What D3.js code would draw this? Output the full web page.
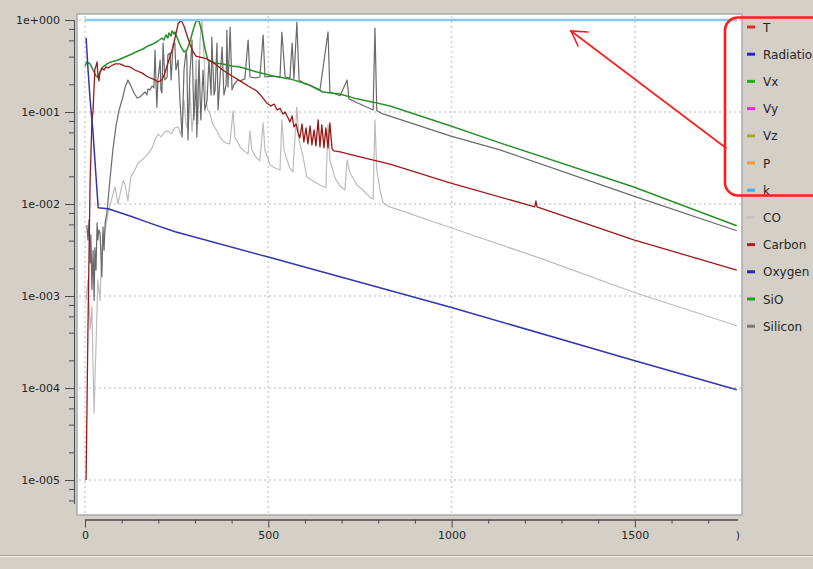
<!DOCTYPE html>
<html>
<head>
<meta charset="utf-8">
<script src="https://cdn.jsdelivr.net/npm/d3@7/dist/d3.min.js"></script>
<style>
  html, body { margin: 0; padding: 0; background: #d4d0c8; overflow: hidden; }
  svg { display: block; font-family: "DejaVu Sans", sans-serif; }
</style>
</head>
<body>
<svg id="chart" width="813" height="569"></svg>
<script>
// ---- data: [time, value] pairs per species ----
const kSeries = [[0, 1.0], [1778, 1.0]];

const oxygen = [
  [3, 0.64], [8, 0.30], [14, 0.135], [22, 0.059], [30, 0.02], [36, 0.0091],
  [63, 0.0089], [123, 0.0074], [177, 0.0062], [246, 0.0050], [500, 0.00265],
  [1000, 0.00075], [1500, 0.000198], [1778, 0.000096]
];

const sio = [
  [0, 0.316], [5, 0.35], [14, 0.333], [22, 0.286], [30, 0.246], [35, 0.240],
  [41, 0.272], [49, 0.309], [60, 0.333], [71, 0.35], [90, 0.367], [109, 0.396],
  [128, 0.427], [145, 0.46], [158, 0.484], [172, 0.522], [185, 0.548], [199, 0.591],
  [210, 0.637], [215, 0.606], [221, 0.687], [226, 0.637], [229, 0.722], [235, 0.670],
  [237, 0.759], [243, 0.705], [245, 0.741], [254, 0.606], [262, 0.509], [270, 0.449],
  [278, 0.472], [286, 0.576], [295, 0.779], [303, 0.975], [311, 0.975], [319, 0.741],
  [327, 0.496], [335, 0.367], [355, 0.341], [376, 0.333], [401, 0.316], [423, 0.309],
  [469, 0.272], [513, 0.246], [559, 0.229], [605, 0.202], [649, 0.165], [695, 0.157],
  [742, 0.139], [786, 0.128], [832, 0.116], [998, 0.0706], [1132, 0.0462],
  [1497, 0.0153], [1778, 0.0058]
];

const carbon = [
  [3, 1e-5], [8, 0.00043], [14, 0.0183], [19, 0.082], [22, 0.105], [25, 0.197],
  [27, 0.294], [30, 0.316], [33, 0.35], [35, 0.253], [38, 0.218], [41, 0.272],
  [46, 0.301], [52, 0.286], [57, 0.309], [63, 0.301], [71, 0.316], [82, 0.333],
  [95, 0.333], [109, 0.316], [123, 0.309], [136, 0.286], [155, 0.266], [172, 0.240],
  [191, 0.223], [199, 0.212], [210, 0.223], [218, 0.266], [229, 0.367], [240, 0.509],
  [248, 0.705], [254, 0.905], [262, 1.0], [270, 0.861], [278, 0.687], [286, 0.548],
  [295, 0.449], [303, 0.406], [314, 0.396], [333, 0.377], [355, 0.333], [376, 0.286],
  [401, 0.246], [423, 0.218], [445, 0.192], [469, 0.169], [483, 0.146], [496, 0.125],
  [507, 0.116], [516, 0.122], [524, 0.105], [532, 0.110], [540, 0.0953], [546, 0.100],
  [554, 0.0862], [559, 0.078], [565, 0.0906], [570, 0.0689], [576, 0.0742], [581, 0.0593],
  [586, 0.0523], [592, 0.0742], [597, 0.0473], [603, 0.0672], [608, 0.045], [614, 0.0706],
  [619, 0.0439], [625, 0.0639], [630, 0.0428], [636, 0.082], [641, 0.0418], [646, 0.0724],
  [652, 0.0407], [657, 0.0672], [663, 0.0407], [668, 0.0761], [674, 0.0397], [679, 0.0378],
  [696, 0.0368], [750, 0.0325], [832, 0.0272], [998, 0.0169], [1227, 0.0093],
  [1230, 0.0108], [1233, 0.0093], [1497, 0.00408], [1778, 0.00191]
];

const silicon = [
  [5, 0.0059], [8, 0.00408], [11, 0.00672], [14, 0.00228], [16, 0.00464], [19, 0.00117],
  [22, 0.00314], [25, 0.000897], [27, 0.00335], [30, 0.00191], [33, 0.00624], [35, 0.00408],
  [38, 0.00525], [41, 0.00487], [44, 0.00246], [46, 0.00162], [49, 0.00566], [52, 0.00314],
  [55, 0.00624], [60, 0.0082], [68, 0.0183], [76, 0.0387], [85, 0.0724], [93, 0.105],
  [101, 0.135], [109, 0.183], [117, 0.223], [125, 0.192], [134, 0.161], [142, 0.142],
  [150, 0.146], [158, 0.157], [164, 0.165], [169, 0.153], [172, 0.178], [177, 0.174],
  [183, 0.192], [188, 0.183], [191, 0.472], [194, 0.197], [196, 0.113], [199, 0.223],
  [205, 0.367], [207, 0.174], [210, 0.161], [213, 0.562], [218, 0.223], [224, 0.240],
  [226, 0.416], [232, 0.438], [235, 0.223], [237, 0.309], [240, 0.535], [245, 0.562],
  [248, 0.286], [254, 0.367], [259, 0.135], [265, 0.0536], [270, 0.286], [276, 0.472],
  [278, 0.367], [281, 0.0498], [286, 0.253], [292, 0.606], [297, 0.082], [303, 0.223],
  [305, 0.0536], [311, 0.367], [316, 0.082], [322, 0.286], [327, 0.105], [333, 0.135],
  [338, 0.367], [344, 0.153], [346, 0.653], [352, 0.153], [355, 0.174], [360, 0.562],
  [363, 0.105], [368, 0.223], [374, 0.509], [379, 0.153], [385, 0.197], [387, 0.779],
  [390, 0.187], [396, 0.839], [401, 0.174], [406, 0.197], [412, 0.212], [417, 0.223],
  [423, 0.218], [436, 0.229], [445, 0.606], [450, 0.240], [464, 0.235], [477, 0.240],
  [486, 0.687], [491, 0.240], [510, 0.246], [532, 0.240], [537, 0.741], [546, 0.240],
  [559, 0.235], [565, 0.562], [570, 0.229], [578, 0.951], [584, 0.223], [600, 0.202],
  [619, 0.192], [641, 0.174], [663, 0.741], [668, 0.165], [696, 0.150], [715, 0.223],
  [720, 0.139], [750, 0.122], [786, 0.105], [791, 0.818], [796, 0.103], [813, 0.0953],
  [996, 0.055], [1132, 0.0387], [1497, 0.0122], [1778, 0.00512]
];

const co = [
  [3, 0.000897], [8, 0.0015], [14, 0.000434], [19, 0.000763], [22, 0.000159], [25, 0.0000533],
  [27, 0.000122], [30, 0.00028], [33, 0.000763], [35, 0.0015], [41, 0.000897], [46, 0.00335],
  [55, 0.00525], [63, 0.008], [74, 0.0119], [82, 0.0153], [90, 0.01], [98, 0.0142],
  [104, 0.0178], [109, 0.0165], [117, 0.0108], [125, 0.0197], [136, 0.0234], [145, 0.0279],
  [155, 0.0301], [164, 0.0325], [172, 0.035], [183, 0.0407], [191, 0.0498], [199, 0.0578],
  [207, 0.0536], [218, 0.0608], [226, 0.0623], [235, 0.0578], [245, 0.0672], [254, 0.0689],
  [262, 0.0564], [270, 0.135], [276, 0.0724], [281, 0.0639], [286, 0.174], [292, 0.0608],
  [297, 0.105], [303, 0.367], [308, 0.0742], [314, 0.606], [319, 1.0], [325, 0.367],
  [330, 0.135], [335, 0.105], [341, 0.0953], [349, 0.0724], [360, 0.0623], [368, 0.0536],
  [376, 0.0485], [385, 0.0462], [395, 0.045], [404, 0.103], [409, 0.0523], [415, 0.0485],
  [423, 0.0418], [434, 0.0378], [445, 0.035], [450, 0.0623], [455, 0.0387], [466, 0.0325],
  [477, 0.0294], [486, 0.0761], [491, 0.0387], [505, 0.0266], [518, 0.0246], [532, 0.0234],
  [537, 0.082], [543, 0.0387], [551, 0.0301], [559, 0.0246], [567, 0.0223], [578, 0.113],
  [584, 0.0498], [595, 0.0325], [605, 0.0197], [622, 0.0178], [641, 0.0161], [657, 0.015],
  [663, 0.0724], [668, 0.0301], [682, 0.0192], [696, 0.0157], [709, 0.0142], [715, 0.0301],
  [723, 0.0217], [742, 0.0161], [758, 0.0142], [777, 0.0119], [786, 0.0113], [791, 0.082],
  [796, 0.0234], [805, 0.0142], [813, 0.0103], [832, 0.0093], [998, 0.00552],
  [1241, 0.00258], [1497, 0.0011], [1778, 0.000475]
];

// legend entries (name, colour) in display order
const legendNames  = ["T", "Radiation", "Vx", "Vy", "Vz", "P", "k", "CO", "Carbon", "Oxygen", "SiO", "Silicon"];
const legendColors = ["#e82828", "#2424d8", "#22b022", "#e828e8", "#a8a828", "#f09838", "#40acf0",
                      "#c4c4c4", "#a82020", "#2828a8", "#22a022", "#787878"];

// axis ticks
const xMajorTicks = [0, 500, 1000, 1500, 1780];
const xTickLabels = ["0", "500", "1000", "1500", ")"];
const xMinorTicks = [100, 200, 300, 400, 600, 700, 800, 900, 1100, 1200, 1300, 1400, 1600, 1700];
const yMajorTicks = [1, 1e-1, 1e-2, 1e-3, 1e-4, 1e-5];
const yTickLabels = ["1e+000", "1e-001", "1e-002", "1e-003", "1e-004", "1e-005"];
const yMinorMantissa = [8, 6, 4, 2];

// ---- drawing ----
const svg = d3.select("#chart");
const frame = { left: 77, top: 14, right: 742, bottom: 515 };

const x = d3.scaleLinear().domain([0, 1780]).range([85, 737.5]);
const y = d3.scaleLog().domain([1, 5.6e-6]).range([20, 503.2]);

// window separator at the bottom
svg.append("line").attr("x1", 0).attr("x2", 813).attr("y1", 555.5).attr("y2", 555.5)
  .attr("stroke", "#a6a39c");
svg.append("line").attr("x1", 0).attr("x2", 813).attr("y1", 556.5).attr("y2", 556.5)
  .attr("stroke", "#f4f2ee");

// plot frame
svg.append("rect")
  .attr("x", frame.left).attr("y", frame.top)
  .attr("width", frame.right - frame.left).attr("height", frame.bottom - frame.top)
  .attr("fill", "#ffffff").attr("stroke", "#a9a9a9").attr("stroke-width", 1.5);

// dotted grid
const grid = svg.append("g").attr("stroke", "#d0d0d0").attr("stroke-width", 1.5)
  .attr("stroke-dasharray", "2,3");
grid.selectAll("line.h").data(yMajorTicks).join("line").attr("class", "h")
  .attr("x1", frame.left + 2).attr("x2", frame.right - 1)
  .attr("y1", d => y(d)).attr("y2", d => y(d));
grid.selectAll("line.v").data(xMajorTicks.slice(0, 4)).join("line").attr("class", "v")
  .attr("x1", d => x(d)).attr("x2", d => x(d))
  .attr("y1", frame.top + 2).attr("y2", frame.bottom - 1);

// series
const line = d3.line().x(d => x(d[0])).y(d => y(d[1]));
const plot = svg.append("g").attr("fill", "none").attr("stroke-linejoin", "round");
const seriesDraw = [
  { data: co,      color: "#bcbcbc", w: 1.2 },
  { data: silicon, color: "#6a6a6a", w: 1.2 },
  { data: sio,     color: "#2a8f2a", w: 1.5 },
  { data: carbon,  color: "#9c1818", w: 1.3 },
  { data: oxygen,  color: "#3434b0", w: 1.5 },
  { data: kSeries, color: "#86c8f2", w: 2.5 }
];
seriesDraw.forEach(s => {
  plot.append("path").attr("d", line(s.data))
    .attr("stroke", s.color).attr("stroke-width", s.w);
});

// y axis: decades with labels, minor ticks without
const axisColor = "#4a4a4a";
const yMinorTicks = [];
for (let e = 0; e >= -5; e--) {
  yMinorMantissa.forEach(m => {
    const v = m * Math.pow(10, e - 1);
    if (v >= 5.6e-6) yMinorTicks.push(v);
  });
}
const yAxisMajor = d3.axisLeft(y).tickValues(yMajorTicks).tickSize(9).tickPadding(5)
  .tickSizeOuter(0).tickFormat((d, i) => yTickLabels[i]);
const yAxisMinor = d3.axisLeft(y).tickValues(yMinorTicks).tickSize(5).tickFormat("")
  .tickSizeOuter(0);
const gy1 = svg.append("g").attr("transform", "translate(74,0)").call(yAxisMajor);
const gy2 = svg.append("g").attr("transform", "translate(74,0)").call(yAxisMinor);

// x axis
const xAxisMajor = d3.axisBottom(x).tickValues(xMajorTicks).tickSize(8).tickPadding(4)
  .tickSizeOuter(0).tickFormat((d, i) => xTickLabels[i]);
const xAxisMinor = d3.axisBottom(x).tickValues(xMinorTicks).tickSize(4).tickFormat("")
  .tickSizeOuter(0);
const gx1 = svg.append("g").attr("transform", "translate(0,519.5)").call(xAxisMajor);
const gx2 = svg.append("g").attr("transform", "translate(0,519.5)").call(xAxisMinor);
// the last label sits flush with the end of the axis
gx1.selectAll(".tick").filter(d => d === 1780).select("line").remove();

[gy1, gy2, gx1, gx2].forEach(g => {
  g.selectAll("path, line").attr("stroke", axisColor);
  g.selectAll("text").attr("fill", "#262626").style("font-size", "11px")
    .style("font-family", "'DejaVu Sans', sans-serif");
});

// legend
const legend = svg.append("g");
const items = legend.selectAll("g").data(legendNames).join("g")
  .attr("transform", (d, i) => `translate(0, ${27 + i * 27.2})`);
items.append("rect").attr("x", 747).attr("y", -1.5).attr("width", 8).attr("height", 3)
  .attr("fill", (d, i) => legendColors[i]);
items.append("text").attr("x", 763).attr("y", 4.5).text(d => d)
  .attr("fill", "#262626").style("font-size", "12px");

// red callout around the legend
const callout = svg.append("g").attr("fill", "none").attr("stroke", "#ff1c1c")
  .attr("stroke-linecap", "round");
callout.append("rect").attr("x", 725).attr("y", 17.5).attr("width", 110).attr("height", 178)
  .attr("rx", 13).attr("stroke-width", 2.6);
callout.append("line").attr("x1", 726).attr("y1", 148).attr("x2", 571).attr("y2", 31)
  .attr("stroke-width", 1.6);
callout.append("polyline").attr("points", "588,32 571,31 578,46").attr("stroke-width", 1.6);
</script>
</body>
</html>
